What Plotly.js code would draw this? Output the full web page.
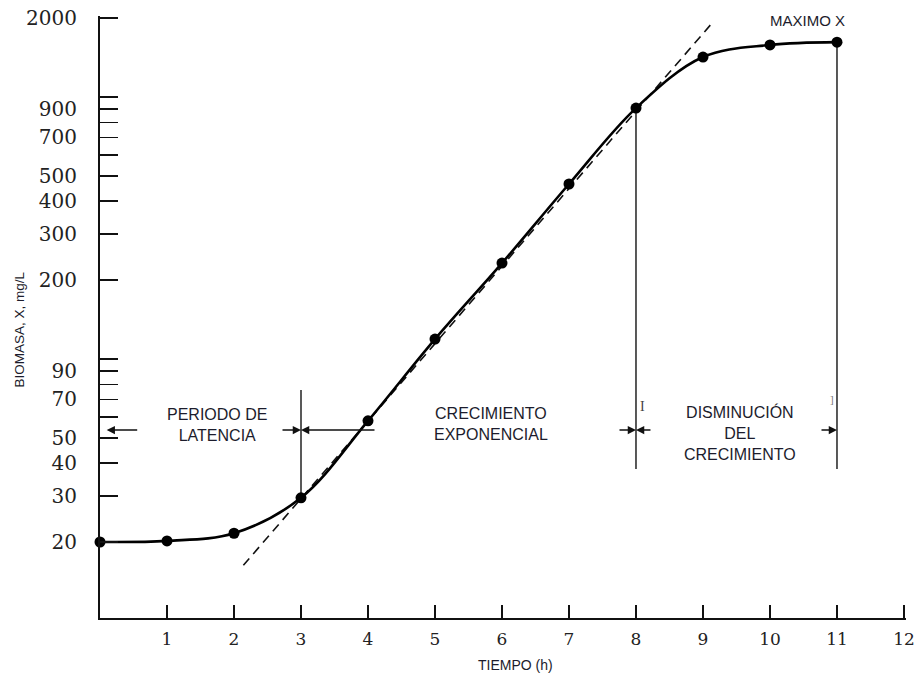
<!DOCTYPE html>
<html>
<head>
<meta charset="utf-8">
<script src="https://cdn.plot.ly/plotly-3.0.1.min.js"></script>
<style>html,body{margin:0;padding:0;background:#fff;}#chart{width:914px;height:677px;}</style>
</head>
<body>
<div id="chart"></div>
<script>
// Growth curve data (time in h, biomass in mg/L)
const tiempo = [0, 1, 2, 3, 4, 5, 6, 7, 8, 9, 10, 11];
const biomasa = [20, 20.2, 21.6, 29.5, 58, 119, 232, 465, 906, 1419, 1578, 1618];

// Exponential extrapolation (dashed)
const expX = [2.14, 9.15];
const expY = [16.3, 1932];

// Vertical phase markers
const lineaLatX = [3, 3];
const lineaLatY = [29.5, 76];
const lineaExpX = [8, 8];
const lineaExpY = [38, 906];
const lineaMaxX = [11, 11];
const lineaMaxY = [38, 1618];

// Ticks
const xTicks = [1, 2, 3, 4, 5, 6, 7, 8, 9, 10, 11, 12];
const xTickText = ['1', '2', '3', '4', '5', '6', '7', '8', '9', '10', '11', '12'];
const yTicks = [20, 30, 40, 50, 60, 70, 80, 90, 100, 200, 300, 400, 500, 600, 700, 800, 900, 1000, 2000];
const yTickText = ['20', '30', '40', '50', '', '70', '', '90', '', '200', '300', '400', '500', '', '700', '', '900', '', '2000'];

const sans = 'Liberation Sans, Arial, sans-serif';
const serif = 'DejaVu Serif, serif';
const txtColor = '#1c1c2c';
const arrowY = Math.log10(53.5);

const traces = [
  {x: expX, y: expY, mode: 'lines', line: {color: '#111', width: 1.6, dash: '9px,6px'}, hoverinfo: 'skip'},
  {x: lineaLatX, y: lineaLatY, mode: 'lines', line: {color: '#222', width: 1.5}, hoverinfo: 'skip'},
  {x: lineaExpX, y: lineaExpY, mode: 'lines', line: {color: '#222', width: 1.5}, hoverinfo: 'skip'},
  {x: lineaMaxX, y: lineaMaxY, mode: 'lines', line: {color: '#222', width: 1.5}, hoverinfo: 'skip'},
  {x: tiempo, y: biomasa, mode: 'lines+markers', line: {color: '#000', width: 2.6, shape: 'spline', smoothing: 1},
   marker: {color: '#000', size: 11}, cliponaxis: false}
];

function arrow(x, ax) {
  return {x: x, y: arrowY, xref: 'x', yref: 'y', ax: ax, ay: 0, text: '', showarrow: true,
          arrowhead: 2, arrowsize: 1.1, arrowwidth: 1.5, arrowcolor: '#111'};
}
function label(text, x, y, size) {
  return {x: x, y: y, xref: 'x', yref: 'y', text: text, showarrow: false,
          font: {family: sans, size: size, color: txtColor}, xanchor: 'center', yanchor: 'middle'};
}

const layout = {
  width: 914, height: 677,
  margin: {l: 100, r: 8, t: 16, b: 59},
  paper_bgcolor: '#fff', plot_bgcolor: '#fff',
  showlegend: false,
  xaxis: {
    range: [0, 12.03], tickvals: xTicks, ticktext: xTickText,
    ticks: 'inside', ticklen: 13, tickwidth: 1.5, tickcolor: '#111',
    showline: true, linewidth: 2, linecolor: '#111', showgrid: false, zeroline: false,
    tickfont: {family: serif, size: 17, color: '#222'}, ticklabelstandoff: 5,
    ticklabeloverflow: 'allow'
  },
  yaxis: {
    type: 'log', range: [1.011, 3.3087], tickvals: yTicks, ticktext: yTickText,
    ticks: 'inside', ticklen: 18, tickwidth: 1.5, tickcolor: '#111',
    showline: true, linewidth: 2, linecolor: '#111', showgrid: false, zeroline: false,
    tickfont: {family: serif, size: 20, color: '#222'}, ticklabelstandoff: 17,
    ticklabeloverflow: 'allow'
  },
  annotations: [
    arrow(0.1, 32), arrow(3, -20),
    arrow(3, 75), arrow(8, -18),
    arrow(8, 16), arrow(11, -17),
    label('PERIODO DE<br>LATENCIA', 1.75, 1.749, 16),
    label('CRECIMIENTO<br>EXPONENCIAL', 5.84, 1.751, 16),
    label('DISMINUCIÓN<br>DEL<br>CRECIMIENTO', 9.55, 1.717, 16),
    label('MAXIMO X', 10.56, 3.293, 15),
    {x: 8.1, y: 1.82, xref: 'x', yref: 'y', text: 'I', showarrow: false,
     font: {family: 'Liberation Serif, serif', size: 14, color: '#444'}},
    {x: 10.92, y: 1.845, xref: 'x', yref: 'y', text: ']', showarrow: false,
     font: {family: 'Liberation Serif, serif', size: 11, color: '#777'}},
    {x: -0.1, y: 0.48, xref: 'paper', yref: 'paper', text: 'BIOMASA, X, mg/L', showarrow: false,
     textangle: -90, font: {family: sans, size: 13.5, color: txtColor}, xanchor: 'center', yanchor: 'middle'},
    {x: 0.515, y: -0.078, xref: 'paper', yref: 'paper', text: 'TIEMPO (h)', showarrow: false,
     font: {family: sans, size: 14, color: txtColor}, xanchor: 'center', yanchor: 'middle'}
  ]
};

Plotly.newPlot('chart', traces, layout, {displayModeBar: false, staticPlot: true});
</script>
</body>
</html>
